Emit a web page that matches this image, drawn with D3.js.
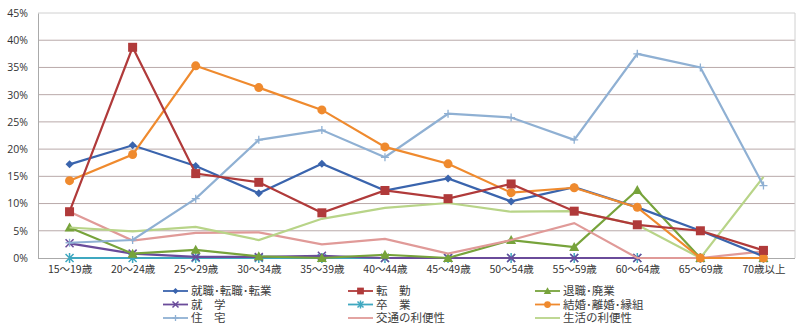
<!DOCTYPE html>
<html><head><meta charset="utf-8">
<script src="https://cdn.jsdelivr.net/npm/d3@7"></script>
<style>body{margin:0;background:#fff}svg{display:block}text{font-family:"Noto Sans CJK JP","Noto Sans",sans-serif}</style>
</head><body><svg id="c" width="800" height="334"></svg>
<script>
const categories = ["15～19歳","20～24歳","25～29歳","30～34歳","35～39歳","40～44歳","45～49歳","50～54歳","55～59歳","60～64歳","65～69歳","70歳以上"];
const yTicks = [0,5,10,15,20,25,30,35,40,45];
const seriesNames = ["就職･転職･転業","転　勤","退職･廃業","就　学","卒　業","結婚･離婚･縁組","住　宅","交通の利便性","生活の利便性"];
const shuushoku = [17.2,20.7,16.9,11.9,17.3,12.4,14.6,10.4,13.0,9.3,5.0,0.3];
const tenkin    = [8.5,38.7,15.5,13.9,8.3,12.4,10.9,13.6,8.6,6.1,5.0,1.4];
const taishoku  = [5.6,0.8,1.5,0.3,0.0,0.6,0.0,3.3,2.0,12.5,0.0,0.0];
const shuugaku  = [2.7,0.8,0.2,0.2,0.4,0.0,0.0,0.0,0.0,0.0,0.0,0.0];
const sotsugyou = [0,0,0,0,0,0,0,0,0,0,0,0];
const kekkon    = [14.2,19.0,35.3,31.3,27.2,20.4,17.3,12.0,12.9,9.3,0.0,0.0];
const juutaku   = [2.8,3.3,10.9,21.7,23.5,18.5,26.5,25.8,21.7,37.5,35.0,13.3];
const koutsuu   = [8.5,3.2,4.6,4.7,2.5,3.5,0.8,3.3,6.4,0.0,0.0,1.2];
const seikatsu  = [5.6,4.9,5.7,3.3,7.2,9.2,10.1,8.5,8.6,6.1,0.0,14.9];
const seriesValues = [shuushoku,tenkin,taishoku,shuugaku,sotsugyou,kekkon,juutaku,koutsuu,seikatsu];
const colors = ["#3a64ad","#b03a3a","#77a33b","#6a4b9a","#3fa8c0","#ef8a2e","#8fb0d3","#e09a98","#b8d488"];
const markers = ["diamond","square","triangle","x","star","circle","plus","none","none"];

const svg = d3.select("#c");
const L=38,R=795,T=13,B=258;
const x = d3.scalePoint().domain(categories).range([L,R]).padding(0.5);
const y = d3.scaleLinear().domain([0,45]).range([B,T]);

// grid
svg.append("g").selectAll("line").data(yTicks.filter(d=>d>0)).join("line")
  .attr("x1",L).attr("x2",R).attr("y1",d=>y(d)).attr("y2",d=>y(d))
  .attr("stroke",d=>d===45?"#d0d0d0":"#b9a9a9").attr("stroke-width",1);
svg.append("line").attr("x1",R).attr("x2",R).attr("y1",T).attr("y2",B).attr("stroke","#d0d0d0");
// y axis
const ya = svg.append("g").attr("transform",`translate(${L},0)`)
  .call(d3.axisLeft(y).tickValues(yTicks).tickFormat(d=>d+"%").tickSize(0).tickPadding(10));
ya.select(".domain").attr("stroke","#aaaaaa");
ya.selectAll("text").attr("font-size",10.5).attr("fill","#333").style("font-family","'Open Sans','Noto Sans',sans-serif");
// x axis
const xa = svg.append("g").attr("transform",`translate(0,${B})`)
  .call(d3.axisBottom(x).tickSize(0).tickPadding(8));
xa.select(".domain").attr("stroke","#aaaaaa").attr("d",`M${L},0.5H${R}`);
xa.selectAll("text").attr("font-size",10.5).attr("fill","#333");

function drawMarker(g,type,cx,cy,col,sc){
  const s=4*sc;
  if(type==="diamond") g.append("path").attr("d",`M${cx},${cy-s}L${cx+s},${cy}L${cx},${cy+s}L${cx-s},${cy}Z`).attr("fill",col);
  else if(type==="square") g.append("rect").attr("x",cx-4.5*sc).attr("y",cy-4.5*sc).attr("width",9*sc).attr("height",9*sc).attr("fill",col);
  else if(type==="triangle") g.append("path").attr("d",`M${cx},${cy-5*sc}L${cx+5*sc},${cy+4*sc}L${cx-5*sc},${cy+4*sc}Z`).attr("fill",col);
  else if(type==="circle") g.append("circle").attr("cx",cx).attr("cy",cy).attr("r",4.5*sc).attr("fill",col);
  else if(type==="x") g.append("path").attr("d",`M${cx-s},${cy-s}L${cx+s},${cy+s}M${cx-s},${cy+s}L${cx+s},${cy-s}`).attr("stroke",col).attr("stroke-width",1.5);
  else if(type==="star") g.append("path").attr("d",`M${cx-s},${cy-s}L${cx+s},${cy+s}M${cx-s},${cy+s}L${cx+s},${cy-s}M${cx},${cy-s-1}L${cx},${cy+s+1}`).attr("stroke",col).attr("stroke-width",1.5);
  else if(type==="plus") g.append("path").attr("d",`M${cx-s},${cy}L${cx+s},${cy}M${cx},${cy-s}L${cx},${cy+s}`).attr("stroke",col).attr("stroke-width",1.3);
}

const line = d3.line().x((d,i)=>x(categories[i])).y(d=>y(d));
const order=[4,3,2,7,8,0,6,5,1];
order.forEach(k=>{
  const g=svg.append("g");
  g.append("path").attr("d",line(seriesValues[k])).attr("fill","none").attr("stroke",colors[k]).attr("stroke-width",2.2);
  seriesValues[k].forEach((v,i)=>drawMarker(g,markers[k],x(categories[i]),y(v),colors[k],1));
});

// legend
const colX=[163,348,535], rowY=[291,304.5,318];
seriesNames.forEach((n,k)=>{
  const lx=colX[k%3], ly=rowY[Math.floor(k/3)];
  const g=svg.append("g");
  g.append("line").attr("x1",lx).attr("x2",lx+25).attr("y1",ly).attr("y2",ly).attr("stroke",colors[k]).attr("stroke-width",1.8);
  drawMarker(g,markers[k],lx+12.5,ly,colors[k],0.75);
  g.append("text").attr("x",lx+28).attr("y",ly+4.2).attr("font-size",11.5).attr("fill","#404040").text(n);
});
</script></body></html>
